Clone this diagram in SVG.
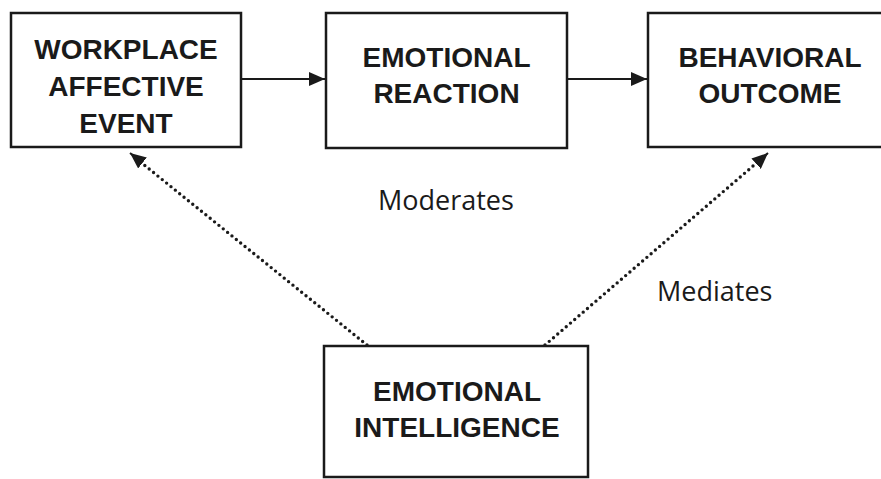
<svg xmlns="http://www.w3.org/2000/svg" width="881" height="479" viewBox="0 0 881 479">
<style>
.box{fill:#fff;stroke:#1a1a1a;stroke-width:2.5}
.t{font-family:"Liberation Sans",Arial,sans-serif;font-weight:bold;font-size:28px;fill:#1a1a1a;text-anchor:middle}
.lbl{font-family:"Open Sans","Liberation Sans",sans-serif;font-size:27px;fill:#1a1a1a}
.solid{stroke:#1a1a1a;stroke-width:2;fill:none}
.dot{stroke:#1a1a1a;stroke-width:3.4;fill:none;stroke-dasharray:0 5.6;stroke-linecap:round}
.head{fill:#1a1a1a}
</style>
<defs>
<marker id="ah" viewBox="0 0 16 14" refX="16" refY="7" markerWidth="16" markerHeight="14" markerUnits="userSpaceOnUse" orient="auto">
<path d="M0,0 L16,7 L0,14 Z" fill="#1a1a1a"/>
</marker>
</defs>
<rect width="881" height="479" fill="#fff"/>
<g id="n1">
<rect class="box" x="11" y="13" width="230" height="134"/>
<text class="t" x="126" y="59">WORKPLACE</text>
<text class="t" x="126" y="96">AFFECTIVE</text>
<text class="t" x="126" y="133">EVENT</text>
</g>
<g id="n2">
<rect class="box" x="326" y="13" width="241" height="135"/>
<text class="t" x="446.5" y="67">EMOTIONAL</text>
<text class="t" x="446.5" y="103">REACTION</text>
</g>
<g id="n3">
<rect class="box" x="648" y="13" width="245" height="134"/>
<text class="t" x="770" y="67">BEHAVIORAL</text>
<text class="t" x="770" y="103">OUTCOME</text>
</g>
<g id="n4">
<rect class="box" x="324" y="346" width="264" height="131"/>
<text class="t" x="457" y="401">EMOTIONAL</text>
<text class="t" x="457" y="437">INTELLIGENCE</text>
</g>
<g id="connectors">
<line class="solid" x1="241" y1="79" x2="325" y2="79" marker-end="url(#ah)"/>
<line class="solid" x1="567" y1="79" x2="647" y2="79" marker-end="url(#ah)"/>
<line class="dot" x1="367" y1="345" x2="138" y2="160"/>
<line class="solid" x1="140" y1="161" x2="130" y2="153" marker-end="url(#ah)" stroke-width="0"/>
<line class="dot" x1="545" y1="345" x2="760" y2="160"/>
<line class="solid" x1="758" y1="162" x2="768" y2="153" marker-end="url(#ah)" stroke-width="0"/>
</g>
<text class="lbl" x="378" y="210">Moderates</text>
<text class="lbl" x="657" y="301">Mediates</text>
</svg>
